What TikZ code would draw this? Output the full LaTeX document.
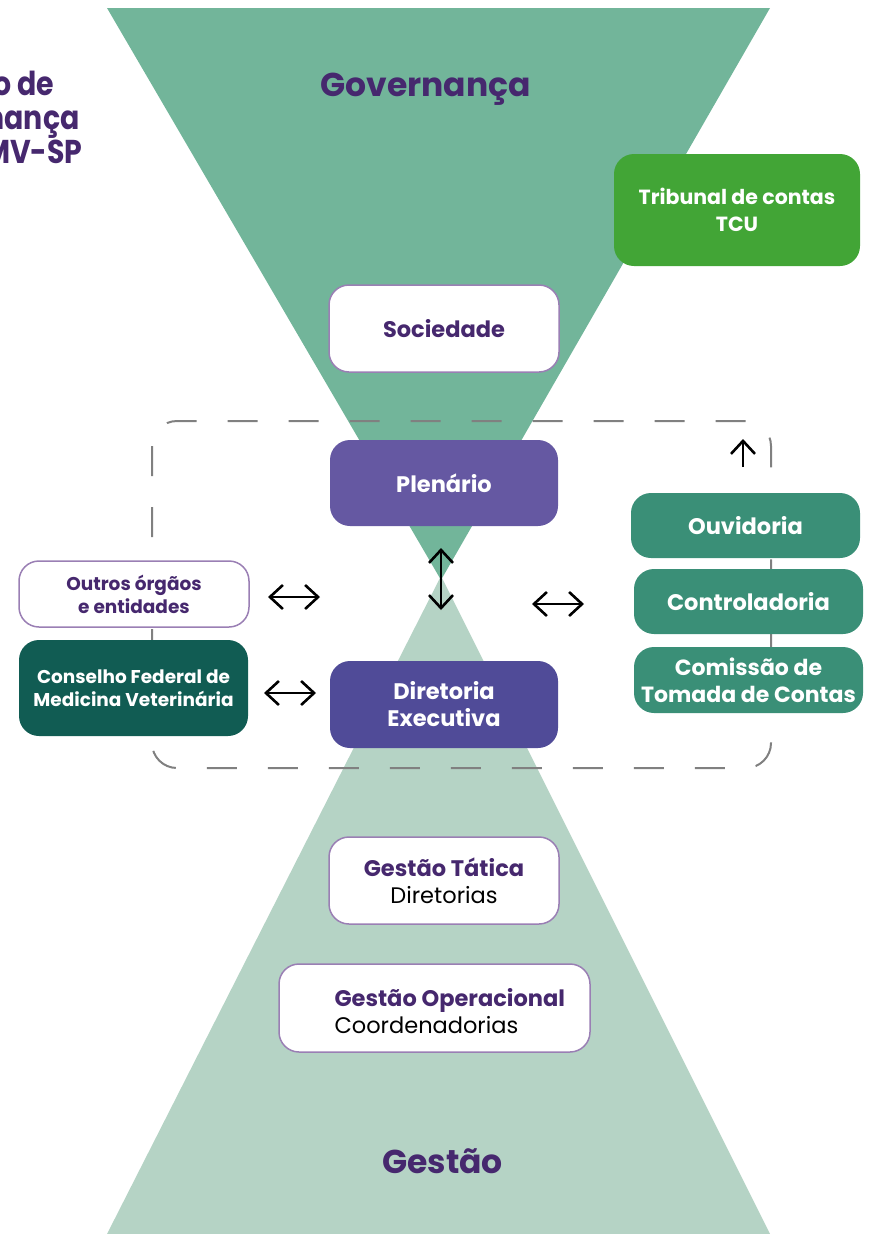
\documentclass[tikz,border=0pt]{standalone}
\usepackage{fontspec}
\setmainfont{Poppins}
\newfontfamily\headfont{Poppins}[FakeStretch=0.86]
\usetikzlibrary{arrows.meta}
\definecolor{topgreen}{HTML}{72B59A}
\definecolor{botgreen}{HTML}{B5D3C5}
\definecolor{txtpurple}{HTML}{46286E}
\definecolor{edgepurple}{HTML}{9A7FB4}
\definecolor{plenfill}{HTML}{6558A2}
\definecolor{dirfill}{HTML}{504B98}
\definecolor{tcufill}{HTML}{42A536}
\definecolor{orgfill}{HTML}{3A8F77}
\definecolor{cfmvfill}{HTML}{115C53}
\begin{document}
\begin{tikzpicture}[x=1pt,y=-1pt,
  box/.style={rounded corners=20pt, minimum width=230pt, minimum height=87pt, align=center, font=\fontsize{22.5}{27}\selectfont\bfseries},
  whitebox/.style={box, draw=edgepurple, line width=1.5pt, fill=white, text=txtpurple},
  fillbox/.style={box, text=white},
  smallbox/.style={minimum height=66pt, font=\fontsize{18.5}{23}\selectfont\bfseries},
  title/.style={text=txtpurple, font=\fontsize{33}{38}\selectfont\bfseries},
  headline/.style={title, anchor=base east, font=\headfont\fontsize{33}{38}\selectfont\bfseries},
  link/.style={line width=2.6pt, {Straight Barb[length=13pt,width=24pt]}-{Straight Barb[length=13pt,width=24pt]}},
  dashbox/.style={draw=gray, line width=2pt, dash pattern=on 30pt off 31pt, rounded corners=25pt}]
\useasboundingbox (0,0) rectangle (873,1234);
% the two triangles
\fill[botgreen] (107,1234) -- (441,576) -- (770,1234) -- cycle;
\fill[topgreen] (107,8) -- (770,8) -- (441,580) -- cycle;
% titles
\node[title, anchor=base] (gov) at (425.5,96) {Governança};
\node[title, anchor=base] (gest) at (442.5,1173) {Gestão};
\node[headline] (head1) at (58,95) {o de};
\node[headline] (head2) at (83,129) {nança};
\node[headline] (head3) at (86,163) {MV-SP};
% dashed frame
\draw[dashbox] (152,421) rectangle (771,768);
% boxes
\node[fillbox, fill=tcufill, minimum width=246pt, minimum height=112pt, font=\fontsize{20.5}{27}\selectfont\bfseries] (tcu) at (737,210) {Tribunal de contas\\TCU};
\node[whitebox] (soc) at (444,328.5) {Sociedade};
\node[fillbox, fill=plenfill, minimum width=228pt, minimum height=86pt] (plen) at (444,483) {Plenário};
\node[fillbox, fill=dirfill, minimum width=228pt] (dir) at (444,704.5) {Diretoria\\Executiva};
\node[whitebox, smallbox] (outros) at (134,594) {Outros órgãos\\e entidades};
\node[fillbox, smallbox, fill=cfmvfill, minimum width=229pt, minimum height=96pt] (cfmv) at (133.5,688) {Conselho Federal de\\Medicina Veterinária};
\node[fillbox, fill=orgfill, minimum width=229pt, minimum height=65pt] (ouv) at (745.5,525.5) {Ouvidoria};
\node[fillbox, fill=orgfill, minimum width=229pt, minimum height=65pt] (contr) at (748.5,601.5) {Controladoria};
\node[fillbox, fill=orgfill, minimum width=229pt, minimum height=66pt, font=\fontsize{22}{27}\selectfont\bfseries] (ctc) at (748.5,680) {Comissão de\\Tomada de Contas};
\node[whitebox] (tatica) at (444,880.5) {Gestão Tática\\\mdseries\color{black}Diretorias};
\node[whitebox, minimum width=311pt, minimum height=88pt] (oper) at (434.5,1008) {};
\node[anchor=west, align=left, text=txtpurple, font=\fontsize{22.5}{27}\selectfont\bfseries] (opertxt) at (331,1011) {Gestão Operacional\\\mdseries\color{black}Coordenadorias};
% arrows
\coordinate (l1a) at (268,597);
\coordinate (l1b) at (320,597);
\coordinate (l2a) at (264,693);
\coordinate (l2b) at (316,693);
\coordinate (r1a) at (532,604);
\coordinate (r1b) at (584,604);
\coordinate (va) at (441,548);
\coordinate (vb) at (441,610);
\coordinate (upa) at (743,467);
\coordinate (upb) at (743,439);
\draw[link] (l1a) -- (l1b);
\draw[link] (l2a) -- (l2b);
\draw[link] (r1a) -- (r1b);
\draw[link] (va) -- (vb);
\draw[line width=2.6pt, -{Straight Barb[length=13pt,width=24pt]}] (upa) -- (upb);
\end{tikzpicture}
\end{document}
